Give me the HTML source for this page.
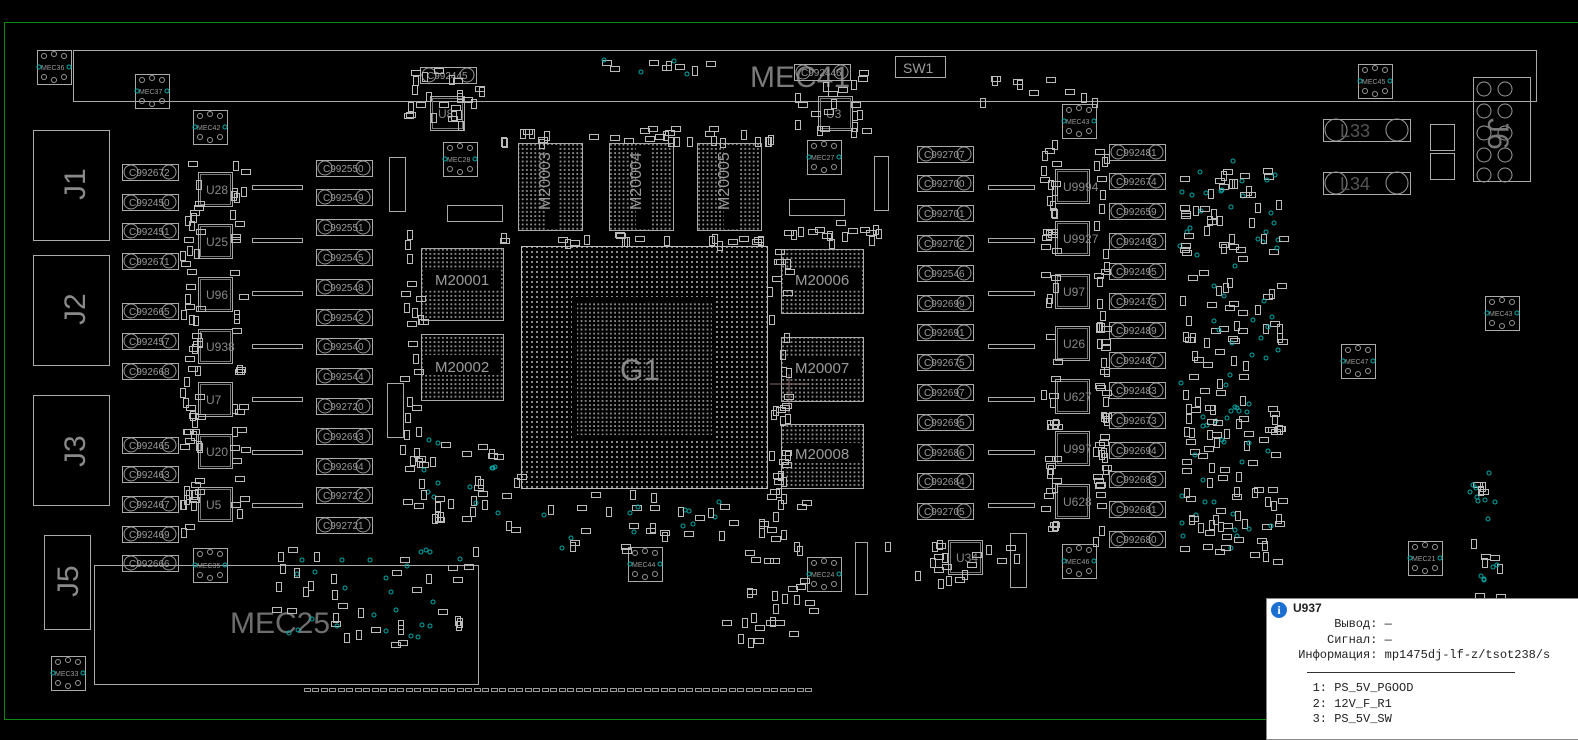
<!DOCTYPE html>
<html><head><meta charset="utf-8"><style>
html,body{margin:0;padding:0;background:#000;width:1578px;height:726px;overflow:hidden}
svg{display:block}
.tip{position:absolute;left:1266px;top:598px;width:330px;height:140px;background:#fff;border:1px solid #888;font-family:"Liberation Mono",monospace;font-size:12px;color:#222}
.tip pre{margin:0;font-family:"Liberation Mono",monospace;font-size:12px;line-height:15.5px}
</style></head><body>
<svg id="s" width="1578" height="726" xmlns="http://www.w3.org/2000/svg" font-family="Liberation Sans, sans-serif">
<defs>
<pattern id="bga" width="5" height="5" patternUnits="userSpaceOnUse"><rect x="1" y="1" width="2" height="2" fill="#8a8a8a"/></pattern>
<pattern id="bga2" width="4.2" height="4.2" patternUnits="userSpaceOnUse"><rect x="1" y="1" width="1.8" height="1.8" fill="#8f8f8f"/></pattern>
</defs>
<rect x="4.5" y="22.5" width="1580" height="697" fill="none" stroke="#0a8a0a" stroke-width="1"/>
<g fill="none" stroke="#aaa" stroke-width="1" id="g">
<rect x="73.5" y="50.5" width="1463" height="51"/>
<rect x="94.5" y="565.5" width="384" height="119"/>
<rect x="33.5" y="130.5" width="76" height="110"/>
<rect x="33.5" y="255.5" width="76" height="110"/>
<rect x="33.5" y="395.5" width="76" height="110"/>
<rect x="44.5" y="535.5" width="46" height="94"/>
<rect x="895.5" y="56.5" width="50" height="21"/>
<rect x="1323.5" y="119.5" width="87" height="22"/>
<rect x="1323.5" y="172.5" width="87" height="22"/>
<rect x="1473.5" y="77.5" width="57" height="104"/>
<rect x="1430.5" y="124.5" width="24" height="26"/>
<rect x="1430.5" y="153.5" width="24" height="26"/>
<rect x="389.5" y="157.5" width="16" height="54"/>
<rect x="874.5" y="156.5" width="14" height="54"/>
<rect x="387.5" y="383.5" width="16" height="54"/>
<rect x="1010.5" y="533.5" width="16" height="54"/>
<rect x="855.5" y="542.5" width="12" height="52"/>
<rect x="447.5" y="205.5" width="55" height="16"/>
<rect x="789.5" y="199.5" width="55" height="16"/>
</g>
<g fill="none" stroke="#999">
<circle cx="1336" cy="130" r="11"/><circle cx="1397" cy="130" r="11"/>
<circle cx="1336" cy="183" r="11"/><circle cx="1397" cy="183" r="11"/>
<circle cx="1484" cy="89" r="7"/><circle cx="1505" cy="89" r="7"/>
<circle cx="1484" cy="111" r="7"/><circle cx="1505" cy="111" r="7"/>
<circle cx="1484" cy="133" r="7"/><circle cx="1505" cy="133" r="7"/>
<circle cx="1484" cy="155" r="7"/><circle cx="1505" cy="155" r="7"/>
<circle cx="1484" cy="175" r="7"/><circle cx="1505" cy="175" r="7"/>
</g>
<g fill="url(#bga2)" stroke="#aaa">
<rect x="518.5" y="143.5" width="64" height="87"/>
<rect x="609.5" y="143.5" width="64" height="87"/>
<rect x="697.5" y="143.5" width="64" height="87"/>
<rect x="421.5" y="248.5" width="82" height="72"/>
<rect x="421.5" y="334.5" width="82" height="66"/>
<rect x="781.5" y="249.5" width="82" height="64"/>
<rect x="781.5" y="337.5" width="82" height="64"/>
<rect x="781.5" y="424.5" width="82" height="64"/>
</g>
<g fill="#000">
<rect x="545" y="145" width="14" height="84"/><rect x="636" y="145" width="14" height="84"/><rect x="724" y="145" width="14" height="84"/>
<rect x="423" y="270" width="78" height="20"/><rect x="423" y="355" width="78" height="20"/>
<rect x="783" y="269" width="78" height="20"/><rect x="783" y="357" width="78" height="20"/><rect x="783" y="443" width="78" height="20"/>
</g>
<rect x="521.5" y="246.5" width="246" height="242" fill="url(#bga)" stroke="#bbb"/>
<rect x="572" y="297" width="143" height="143" fill="#000"/>
<rect x="577" y="302" width="135" height="133" fill="url(#bga2)"/>
<g fill="#9a9a9a" font-size="15">
<text x="550" y="210" transform="rotate(-90 550 210)" font-size="16">M20003</text>
<text x="641" y="210" transform="rotate(-90 641 210)" font-size="16">M20004</text>
<text x="729" y="210" transform="rotate(-90 729 210)" font-size="16">M20005</text>
<text x="435" y="285">M20001</text><text x="435" y="372">M20002</text>
<text x="795" y="285">M20006</text><text x="795" y="373">M20007</text><text x="795" y="459">M20008</text>
</g>
<text x="620" y="380" fill="#8a8a8a" font-size="30">G1</text>
<text x="750" y="87" fill="#7a7a7a" font-size="30">MEC41</text>
<text x="230" y="633" fill="#6e6e6e" font-size="30">MEC25</text>
<g fill="#8a8a8a" font-size="30">
<text x="85" y="200" transform="rotate(-90 85 200)">J1</text>
<text x="85" y="325" transform="rotate(-90 85 325)">J2</text>
<text x="85" y="467" transform="rotate(-90 85 467)">J3</text>
<text x="78" y="597" transform="rotate(-90 78 597)">J5</text>
</g>
<text x="903" y="73" fill="#9a9a9a" font-size="14">SW1</text>
<text x="1340" y="137" fill="#555" font-size="18">L33</text>
<text x="1340" y="190" fill="#555" font-size="18">L34</text>
<text x="1490" y="140" fill="#777" font-size="30" transform="rotate(90 1500 128)">J6</text>
<line x1="770" y1="384" x2="808" y2="384" stroke="#866" /><line x1="789" y1="374" x2="789" y2="413" stroke="#866"/>
<g id="dyn"></g>
</svg>
<div class="tip"><div style="position:absolute;left:4px;top:3px;width:16px;height:16px;border-radius:50%;background:#1a6fd0;color:#fff;font:bold 12px 'Liberation Serif',serif;text-align:center;line-height:16px">i</div>
<div style="position:absolute;left:26px;top:2px;font:bold 12px 'Liberation Sans',sans-serif">U937</div>
<pre style="position:absolute;left:24px;top:18px">      Вывод: —
     Сигнал: —
 Информация: mp1475dj-lf-z/tsot238/s</pre>
<div style="position:absolute;left:40px;top:73px;width:208px;border-top:1px solid #333"></div>
<pre style="position:absolute;left:24px;top:82px">   1: PS_5V_PGOOD
   2: 12V_F_R1
   3: PS_5V_SW</pre>
</div>
<script>
var d=document.getElementById('dyn'),h='';
function R(x,y,w,hh,c){h+='<rect x="'+(x+.5)+'" y="'+(y+.5)+'" width="'+w+'" height="'+hh+'" fill="none" stroke="'+(c||'#aaa')+'"/>';}
function T(x,y,t,s,c){h+='<text x="'+x+'" y="'+y+'" font-size="'+s+'" fill="'+(c||'#999')+'">'+t+'</text>';}
function cap(x,y,t){R(x,y,56,16);h+='<circle cx="'+(x+9)+'" cy="'+(y+8)+'" r="7" fill="none" stroke="#999"/><circle cx="'+(x+47)+'" cy="'+(y+8)+'" r="7" fill="none" stroke="#999"/>';T(x+7,y+12,t,10);}
function mec(x,y,t){R(x,y,34,34);h+='<circle cx="'+(x+2)+'" cy="'+(y+17)+'" r="2" fill="none" stroke="#0aa"/><circle cx="'+(x+32)+'" cy="'+(y+17)+'" r="2" fill="none" stroke="#0aa"/>';[[7,6],[27,6],[17,4],[7,27],[27,27],[17,30]].forEach(function(p){h+='<circle cx="'+(x+p[0])+'" cy="'+(y+p[1])+'" r="2.5" fill="none" stroke="#999"/>';});T(x+4,y+20,t,7);}
function chip(x,y,t){R(x,y,34,34);R(x+2,y+2,30,30,'#777');T(x+8,y+22,t,12,'#888');}
var L1=[[164,'C992672'],[194,'C992450'],[223,'C992451'],[253,'C992671'],[303,'C992665'],[333,'C992457'],[363,'C992668'],[437,'C992465'],[466,'C992463'],[496,'C992467'],[526,'C992469'],[555,'C992666']];
L1.forEach(function(a){cap(122,a[0],a[1]);});
var L2=['C992550','C992549','C992551','C992545','C992548','C992542','C992540','C992544','C992720','C992693','C992694','C992722','C992721'];
L2.forEach(function(t,i){cap(316,160+i*29.8|0,t);});
var R1=['C992707','C992700','C992701','C992702','C992546','C992699','C992691','C992675','C992697','C992695','C992686','C992684','C992705'];
R1.forEach(function(t,i){cap(917,146+i*29.8|0,t);});
var R2=['C992481','C992674','C992659','C992493','C992495','C992475','C992489','C992487','C992483','C992673','C992694','C992683','C992681','C992680'];
R2.forEach(function(t,i){cap(1109,144+i*29.8|0,t);});
['U28','U25','U96','U938','U7','U20','U5'].forEach(function(t,i){chip(198,172+i*52.5|0,t);R(252,185+i*53|0,50,4);});
['U9994','U9927','U97','U26','U627','U997','U628'].forEach(function(t,i){chip(1055,169+i*52.5|0,t);R(988,185+i*53|0,46,4);});
chip(430,96,'U8');chip(818,96,'U3');chip(948,540,'U34');
mec(37,50,'MEC36');mec(135,74,'MEC37');mec(193,110,'MEC42');mec(443,142,'MEC28');mec(807,140,'MEC27');mec(1062,104,'MEC43');mec(1358,64,'MEC45');mec(1485,296,'MEC43');mec(1341,344,'MEC47');mec(1062,544,'MEC46');mec(193,548,'MEC35');mec(628,547,'MEC44');mec(807,557,'MEC24');mec(1408,541,'MEC21');mec(51,656,'MEC33');
cap(420,67,'C992445');cap(794,64,'C992446');
var s=7;function rnd(){s=(s*16807)%2147483647;return s/2147483647;}
function scat(x0,y0,w,hh,n,teal){for(var i=0;i<n;i++){var x=x0+rnd()*w|0,y=y0+rnd()*hh|0;if(teal&&rnd()<.35){h+='<circle cx="'+x+'" cy="'+y+'" r="2" fill="none" stroke="#0aa"/>';}else{var v=rnd()<.5;R(x,y,v?5:9,v?9:5,'#bbb');}}}
scat(180,160,18,370,60);scat(230,160,12,370,30);scat(1040,140,14,400,50);scat(1093,140,12,400,50);
scat(1180,160,100,400,230,1);scat(1470,460,30,140,25,1);scat(400,230,20,280,30);scat(766,230,22,270,35);
scat(500,125,270,15,30);scat(500,232,270,10,20);scat(270,545,210,100,60,1);scat(420,440,100,90,40,1);
scat(540,490,180,60,35,1);scat(720,500,90,140,40);scat(880,540,140,40,20);scat(400,68,80,60,25);scat(795,70,70,60,20);
scat(600,60,110,15,12,1);scat(980,75,120,25,10);scat(780,220,100,20,15);
for(var i=0;i<60;i++)R(304+i*8.5|0,688,6,3,'#999');
d.innerHTML=h;
</script>
</body></html>
